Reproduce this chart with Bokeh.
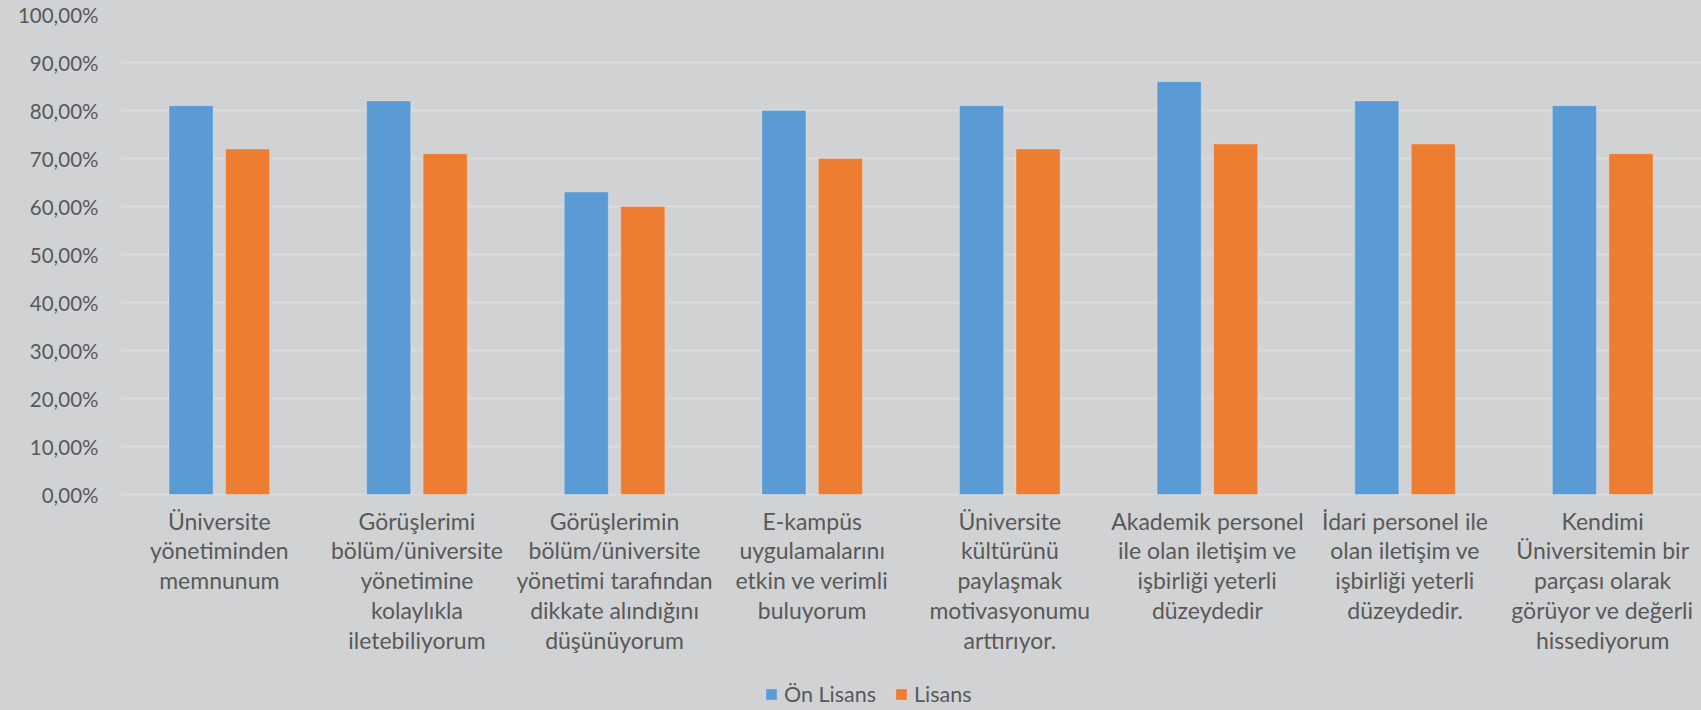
from bokeh.plotting import figure
from bokeh.models import FactorRange, Range1d, FixedTicker, Legend, LegendItem, ColumnDataSource
from bokeh.transform import dodge
from bokeh.embed import file_html
from bokeh.resources import INLINE

categories = [
    "Üniversite\nyönetiminden\nmemnunum",
    "Görüşlerimi\nbölüm/üniversite\nyönetimine\nkolaylıkla\niletebiliyorum",
    "Görüşlerimin\nbölüm/üniversite\nyönetimi tarafından\ndikkate alındığını\ndüşünüyorum",
    "E-kampüs\nuygulamalarını\netkin ve verimli\nbuluyorum",
    "Üniversite\nkültürünü\npaylaşmak\nmotivasyonumu\narttırıyor.",
    "Akademik personel\nile olan iletişim ve\nişbirliği yeterli\ndüzeydedir",
    "İdari personel ile\nolan iletişim ve\nişbirliği yeterli\ndüzeydedir.",
    "Kendimi\nÜniversitemin bir\nparçası olarak\ngörüyor ve değerli\nhissediyorum",
]
on_lisans = [81, 82, 63, 80, 81, 86, 82, 81]
lisans = [72, 71, 60, 70, 72, 73, 73, 71]
series_names = ["Ön Lisans", "Lisans"]
y_ticks = [0, 10, 20, 30, 40, 50, 60, 70, 80, 90, 100]
y_tick_labels = ["0,00%", "10,00%", "20,00%", "30,00%", "40,00%", "50,00%",
                 "60,00%", "70,00%", "80,00%", "90,00%", "100,00%"]

BG = "#D1D2D4"
GRID = "#DCDDDE"
TXT = "#595959"
BLUE = "#5B9BD5"
ORANGE = "#ED7D31"
FONT = "Lato"

src = ColumnDataSource(dict(cat=categories, a=on_lisans, b=lisans))

# frame spans the full height; the region below 0 holds category labels and legend
p = figure(x_range=FactorRange(*categories, range_padding=0), y_range=Range1d(-45, 100),
           width=1701, height=710, output_backend="svg", toolbar_location=None,
           min_border_left=120, min_border_right=0, min_border_top=14, min_border_bottom=0)
p.background_fill_color = BG
p.border_fill_color = BG
p.outline_line_color = None
p.styles = {"background-color": BG}

r1 = p.vbar(x=dodge("cat", -0.143, range=p.x_range), top="a", width=0.223, source=src,
            fill_color=BLUE, line_color="white", line_alpha=0.25, line_width=1)
r2 = p.vbar(x=dodge("cat", 0.143, range=p.x_range), top="b", width=0.223, source=src,
            fill_color=ORANGE, line_color="white", line_alpha=0.25, line_width=1)

p.xgrid.grid_line_color = None
p.ygrid.grid_line_color = GRID
p.ygrid.grid_line_width = 1.5
p.yaxis.ticker = FixedTicker(ticks=y_ticks)
p.yaxis.major_label_overrides = {t: l for t, l in zip(y_ticks, y_tick_labels)}

for ax in (p.xaxis[0], p.yaxis[0]):
    ax.axis_line_color = None
    ax.major_tick_line_color = None
    ax.minor_tick_line_color = None
    ax.major_tick_out = 0
    ax.major_tick_in = 0
    ax.minor_tick_out = 0
    ax.minor_tick_in = 0
    ax.major_label_text_color = TXT
    ax.major_label_text_font = FONT

p.yaxis.major_label_text_font_size = "20.5px"
p.yaxis.major_label_standoff = 22
p.xaxis.fixed_location = 0
p.xaxis.major_label_text_font_size = "23px"
p.xaxis.major_label_text_line_height = 1.07
p.xaxis.major_label_standoff = 12
p.xaxis.major_label_orientation = "horizontal"

legend = Legend(items=[LegendItem(label=series_names[0], renderers=[r1]),
                       LegendItem(label=series_names[1], renderers=[r2])],
                orientation="horizontal", location=(644, 3))
legend.background_fill_alpha = 0
legend.border_line_color = None
legend.padding = 0
legend.margin = 0
legend.spacing = 18
legend.glyph_width = 14
legend.glyph_height = 14
legend.label_standoff = 6
legend.label_text_font = FONT
legend.label_text_font_size = "21.5px"
legend.label_text_color = TXT
p.add_layout(legend, "center")

open("out.html", "w").write(file_html(p, INLINE))
